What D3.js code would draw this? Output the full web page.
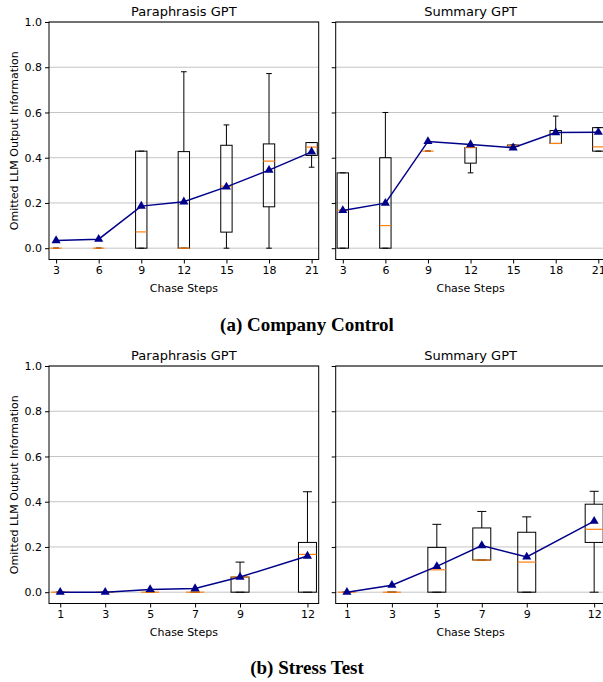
<!DOCTYPE html>
<html>
<head>
<meta charset="utf-8">
<script src="https://cdn.jsdelivr.net/npm/d3@7"></script>
<style>
  body { margin: 0; background: #fff; }
  svg { display: block; }
</style>
</head>
<body>
<svg id="fig"></svg>
<script>
// ---- data ----
const yTicks = [0, 0.2, 0.4, 0.6, 0.8, 1.0];

// (a) Company Control
const ccSteps = [3, 6, 9, 12, 15, 18, 21];
// box stats per step: [lowWhisker, q1, median, q3, highWhisker]
const ccParaBox = [
  [0, 0, 0, 0, 0],
  [0, 0, 0, 0, 0],
  [0, 0, 0.072, 0.429, 0.429],
  [0, 0, 0, 0.427, 0.78],
  [0, 0.071, 0.274, 0.455, 0.545],
  [0, 0.183, 0.385, 0.461, 0.772],
  [0.358, 0.41, 0.447, 0.467, 0.467]
];
const ccParaMean = [0.034, 0.04, 0.186, 0.205, 0.271, 0.345, 0.426];

const ccSumBox = [
  [0, 0, 0.168, 0.333, 0.333],
  [0, 0, 0.1, 0.4, 0.6],
  [0.429, 0.429, 0.429, 0.429, 0.429],
  [0.333, 0.376, 0.445, 0.445, 0.445],
  [0.452, 0.452, 0.454, 0.456, 0.456],
  [0.463, 0.463, 0.463, 0.52, 0.584],
  [0.429, 0.429, 0.448, 0.533, 0.533]
];
const ccSumMean = [0.167, 0.199, 0.472, 0.458, 0.444, 0.511, 0.513];

// (b) Stress Test
const stSteps = [1, 3, 5, 7, 9, 12];
const stParaBox = [
  [0, 0, 0, 0, 0],
  [0, 0, 0, 0, 0],
  [0, 0, 0, 0, 0],
  [0, 0, 0, 0, 0],
  [0, 0, 0.067, 0.067, 0.133],
  [0, 0, 0.167, 0.22, 0.444]
];
const stParaMean = [0, 0, 0.012, 0.016, 0.067, 0.16];

const stSumBox = [
  [0, 0, 0, 0, 0],
  [0, 0, 0, 0, 0],
  [0, 0, 0.099, 0.198, 0.3],
  [0.142, 0.142, 0.142, 0.284, 0.357],
  [0, 0, 0.133, 0.265, 0.333],
  [0, 0.22, 0.278, 0.389, 0.446]
];
const stSumMean = [0, 0.031, 0.114, 0.206, 0.156, 0.314];

// ---- layout ----
const W = 603, H = 682;
const svg = d3.select('#fig').attr('width', W).attr('height', H);
const font = "'DejaVu Sans', sans-serif";

function panel(o) {
  const g = svg.append('g');
  const x = d3.scaleLinear().domain(o.xdom).range([o.left, o.left + 269.7]);
  const y = d3.scaleLinear().domain([-0.05, 1.0]).range([o.top + 237.5, o.top]);
  const boxW = 0.8;

  // grid
  g.selectAll('.grid').data(yTicks).enter().append('line')
    .attr('x1', x.range()[0]).attr('x2', x.range()[1])
    .attr('y1', d => y(d)).attr('y2', d => y(d))
    .attr('stroke', '#c4c4c4').attr('stroke-width', 1);

  // boxes
  const bx = g.selectAll('.box').data(o.boxes).enter().append('g');
  bx.each(function (d, i) {
    const s = d3.select(this);
    const cx = x(o.steps[i]);
    const hw = (x(boxW) - x(0)) / 2;
    const [lo, q1, med, q3, hi] = d;
    s.append('line').attr('x1', cx).attr('x2', cx).attr('y1', y(q1)).attr('y2', y(lo))
      .attr('stroke', '#000').attr('stroke-width', 1);
    s.append('line').attr('x1', cx).attr('x2', cx).attr('y1', y(q3)).attr('y2', y(hi))
      .attr('stroke', '#000').attr('stroke-width', 1);
    [lo, hi].forEach(v => {
      s.append('line').attr('x1', cx - hw / 2).attr('x2', cx + hw / 2)
        .attr('y1', y(v)).attr('y2', y(v)).attr('stroke', '#000').attr('stroke-width', 1);
    });
    s.append('rect').attr('x', cx - hw).attr('width', hw * 2)
      .attr('y', y(q3)).attr('height', Math.max(0, y(q1) - y(q3)))
      .attr('fill', 'none').attr('stroke', '#000').attr('stroke-width', 1);
    s.append('line').attr('x1', cx - hw).attr('x2', cx + hw)
      .attr('y1', y(med)).attr('y2', y(med))
      .attr('stroke', '#ff7f0e').attr('stroke-width', 1.2);
  });

  // mean line + triangles
  const pts = o.steps.map((s, i) => [s, o.mean[i]]);
  g.append('path').datum(pts)
    .attr('d', d3.line().x(d => x(d[0])).y(d => y(d[1])))
    .attr('fill', 'none').attr('stroke', '#00008b').attr('stroke-width', 1.5);
  g.selectAll('.tri').data(pts).enter().append('path')
    .attr('d', d3.symbol(d3.symbolTriangle, 36))
    .attr('transform', d => `translate(${x(d[0])},${y(d[1])})`)
    .attr('fill', '#00008b');

  // axes
  const xa = g.append('g').attr('transform', `translate(0,${y.range()[0]})`)
    .call(d3.axisBottom(x).tickValues(o.steps).tickSize(4).tickPadding(3));
  const ya = g.append('g').attr('transform', `translate(${x.range()[0]},0)`)
    .call(d3.axisLeft(y).tickValues(yTicks).tickSize(4).tickPadding(3)
      .tickFormat(o.ylabels ? d3.format('.1f') : ''));
  [xa, ya].forEach(a => {
    a.select('.domain').remove();
    a.selectAll('text').style('font-family', font).style('font-size', '11px').attr('fill', '#000');
    a.selectAll('line').attr('stroke', '#000');
  });

  // spines
  g.append('rect').attr('x', x.range()[0]).attr('y', y.range()[1])
    .attr('width', x.range()[1] - x.range()[0]).attr('height', y.range()[0] - y.range()[1])
    .attr('fill', 'none').attr('stroke', '#000').attr('stroke-width', 1);

  // titles
  g.append('text').attr('x', (x.range()[0] + x.range()[1]) / 2).attr('y', o.top - 6)
    .attr('text-anchor', 'middle').style('font-family', font).style('font-size', '13px')
    .text(o.title);
  g.append('text').attr('x', (x.range()[0] + x.range()[1]) / 2).attr('y', y.range()[0] + 32)
    .attr('text-anchor', 'middle').style('font-family', font).style('font-size', '11px')
    .text('Chase Steps');
  if (o.ylabels) {
    g.append('text')
      .attr('transform', `translate(18,${(y.range()[0] + y.range()[1]) / 2}) rotate(-90)`)
      .attr('text-anchor', 'middle').style('font-family', font).style('font-size', '11px')
      .text('Omitted LLM Output Information');
  }
}

panel({ left: 49, top: 22, xdom: [2.5, 21.5], steps: ccSteps, boxes: ccParaBox, mean: ccParaMean, title: 'Paraphrasis GPT', ylabels: true });
panel({ left: 335.7, top: 22, xdom: [2.5, 21.5], steps: ccSteps, boxes: ccSumBox, mean: ccSumMean, title: 'Summary GPT', ylabels: false });
panel({ left: 49, top: 366, xdom: [0.5, 12.5], steps: stSteps, boxes: stParaBox, mean: stParaMean, title: 'Paraphrasis GPT', ylabels: true });
panel({ left: 335.7, top: 366, xdom: [0.5, 12.5], steps: stSteps, boxes: stSumBox, mean: stSumMean, title: 'Summary GPT', ylabels: false });

// captions
const capFont = "'Liberation Serif', 'DejaVu Serif', serif";
svg.append('text').attr('x', 307).attr('y', 331).attr('text-anchor', 'middle')
  .style('font-family', capFont).style('font-weight', 'bold').style('font-size', '19px')
  .text('(a) Company Control');
svg.append('text').attr('x', 307).attr('y', 674).attr('text-anchor', 'middle')
  .style('font-family', capFont).style('font-weight', 'bold').style('font-size', '19px')
  .text('(b) Stress Test');
</script>
</body>
</html>
